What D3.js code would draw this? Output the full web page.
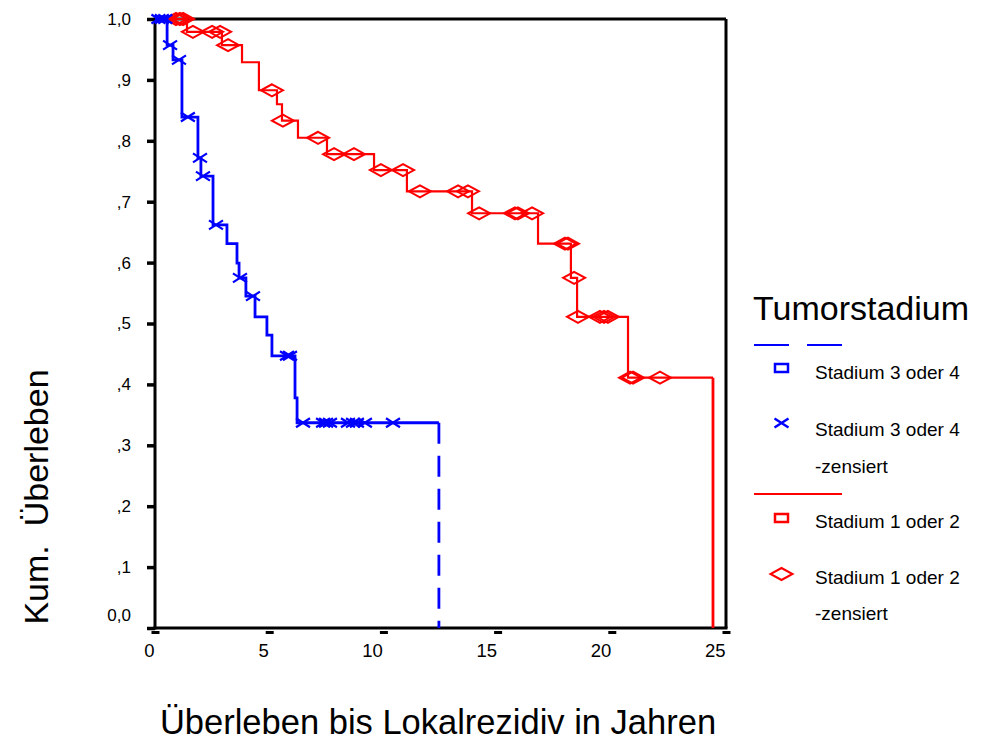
<!DOCTYPE html>
<html>
<head>
<meta charset="utf-8">
<script src="https://cdn.jsdelivr.net/npm/d3@7"></script>
<style>
  html, body { margin: 0; padding: 0; background: #fff; }
  svg text { font-family: "Liberation Sans", Arial, Helvetica, sans-serif; fill: #000; }
</style>
</head>
<body>
<svg id="chart" width="994" height="742"></svg>
<script>
// Kaplan-Meier: time to local recurrence (years), by tumour stage
const blueEventTimes = [0, 0.53, 0.79, 1.18, 1.88, 2.01, 2.54, 3.15, 3.59, 3.68, 3.98, 4.38, 4.90, 5.12, 6.13, 6.22, 12.43];
const blueSurvival   = [1.0, 0.957, 0.933, 0.839, 0.772, 0.742, 0.662, 0.631, 0.599, 0.575, 0.545, 0.511, 0.481, 0.447, 0.378, 0.337, 0];
const blueCensorTimes = [0.15, 0.30, 0.45, 0.66, 1.05, 1.44, 1.97, 2.10, 2.67, 3.72, 4.29, 5.78, 5.91, 6.48, 7.36, 7.49, 7.66, 8.45, 8.67, 8.84, 9.19, 10.42];

const redEventTimes = [0, 1.40, 2.93, 3.81, 4.55, 5.34, 5.56, 6.26, 7.53, 9.59, 11.03, 13.88, 16.77, 18.21, 18.48, 20.71, 24.43];
const redSurvival   = [1.0, 0.979, 0.957, 0.929, 0.883, 0.860, 0.833, 0.805, 0.778, 0.752, 0.717, 0.681, 0.631, 0.575, 0.511, 0.411, 0];
const redCensorTimes = [0.92, 1.09, 1.23, 1.66, 2.50, 2.85, 3.20, 5.12, 5.60, 7.14, 7.84, 8.71, 9.89, 10.86, 11.60, 13.27, 13.70, 14.19, 15.76, 15.89, 16.51, 17.95, 18.08, 18.35, 18.52, 19.48, 19.66, 19.83, 20.80, 20.93, 22.11];

const xTicks = [0, 5, 10, 15, 20, 25];
const xTickLabels = ["0", "5", "10", "15", "20", "25"];
const yTicks = [0, 0.1, 0.2, 0.3, 0.4, 0.5, 0.6, 0.7, 0.8, 0.9, 1.0];
const yTickLabels = ["0,0", ",1", ",2", ",3", ",4", ",5", ",6", ",7", ",8", ",9", "1,0"];

const legendTitle = "Tumorstadium";
const legendLabels = ["Stadium 3 oder 4", "Stadium 3 oder 4", "-zensiert", "Stadium 1 oder 2", "Stadium 1 oder 2", "-zensiert"];
const xTitle = "Überleben bis Lokalrezidiv in Jahren";
const yTitle = "Kum.  Überleben";

const BLUE = "#0000ff", RED = "#ff0000";

const svg = d3.select("#chart");
const x = d3.scaleLinear().domain([0, 25]).range([155, 726]);
const y = d3.scaleLinear().domain([0, 1]).range([628, 19]);

// survival value at time t (right-continuous step function)
function stepValue(times, vals, t) {
  let v = vals[0];
  for (let i = 0; i < times.length; i++) if (times[i] <= t) v = vals[i];
  return v;
}

// frame
const frame = svg.append("g");
frame.append("line").attr("x1", x(0)).attr("x2", x(25)).attr("y1", y(1)).attr("y2", y(1))
  .attr("stroke", "#000").attr("stroke-width", 3);
frame.append("line").attr("x1", x(25)).attr("x2", x(25)).attr("y1", y(1)).attr("y2", y(0))
  .attr("stroke", "#000").attr("stroke-width", 3);
frame.append("line").attr("x1", x(0)).attr("x2", x(0)).attr("y1", y(1) - 1.5).attr("y2", y(0) + 1.5)
  .attr("stroke", "#000").attr("stroke-width", 3);
frame.append("line").attr("x1", x(0) - 1.5).attr("x2", x(25) + 1.5).attr("y1", y(0)).attr("y2", y(0))
  .attr("stroke", "#000").attr("stroke-width", 3);

// axes
const yAxis = svg.append("g").attr("transform", `translate(${x(0)},0)`)
  .call(d3.axisLeft(y).tickValues(yTicks).tickFormat((d, i) => yTickLabels[i]).tickSize(8).tickPadding(16));
yAxis.select(".domain").remove();
yAxis.selectAll(".tick line").attr("stroke", "#000").attr("stroke-width", 3.5);
yAxis.selectAll(".tick text").attr("font-size", 17).attr("fill", "#000")
  .attr("transform", (d) => d === 0 ? "translate(0,-13)" : null);

const xAxis = svg.append("g").attr("transform", `translate(0,${y(0)})`)
  .call(d3.axisBottom(x).tickValues(xTicks).tickFormat((d, i) => xTickLabels[i]).tickSize(6).tickPadding(10));
xAxis.select(".domain").remove();
xAxis.selectAll(".tick line").attr("stroke", "#000").attr("stroke-width", 8)
  .attr("y1", 3).attr("y2", 6);
xAxis.selectAll(".tick text").attr("font-size", 18.5).attr("fill", "#000")
  .attr("text-anchor", "end").attr("dx", -1);

// step curves
const stepLine = d3.line().x(d => x(d[0])).y(d => y(d[1])).curve(d3.curveStepAfter);

function curvePoints(times, vals) {
  const pts = [];
  for (let i = 0; i < times.length - 1; i++) pts.push([times[i], vals[i]]);
  pts.push([times[times.length - 1], vals[vals.length - 2]]);
  return pts;
}

// Stadium 1 oder 2
const redPts = curvePoints(redEventTimes, redSurvival);
svg.append("path").attr("d", stepLine(redPts)).attr("fill", "none")
  .attr("stroke", RED).attr("stroke-width", 2.2);
const tEndR = redEventTimes[redEventTimes.length - 1];
svg.append("line").attr("x1", x(tEndR)).attr("x2", x(tEndR))
  .attr("y1", y(redSurvival[redSurvival.length - 2])).attr("y2", y(redSurvival[redSurvival.length - 1]))
  .attr("stroke", RED).attr("stroke-width", 2.8);

const diamond = "M0,-6L11,0L0,6L-11,0Z";
svg.append("g").selectAll("path").data(redCensorTimes).join("path")
  .attr("d", diamond)
  .attr("transform", t => `translate(${x(t)},${y(stepValue(redEventTimes, redSurvival, t))})`)
  .attr("fill", "none").attr("stroke", RED).attr("stroke-width", 2);

// Stadium 3 oder 4
const bluePts = curvePoints(blueEventTimes, blueSurvival);
svg.append("path").attr("d", stepLine(bluePts)).attr("fill", "none")
  .attr("stroke", BLUE).attr("stroke-width", 2.8);
const tEndB = blueEventTimes[blueEventTimes.length - 1];
svg.append("line").attr("x1", x(tEndB)).attr("x2", x(tEndB))
  .attr("y1", y(blueSurvival[blueSurvival.length - 2])).attr("y2", y(blueSurvival[blueSurvival.length - 1]))
  .attr("stroke", BLUE).attr("stroke-width", 2.8).attr("stroke-dasharray", "21,12");

const cross = "M-7,-4.5L7,4.5M-7,4.5L7,-4.5";
svg.append("g").selectAll("path").data(blueCensorTimes).join("path")
  .attr("d", cross)
  .attr("transform", t => `translate(${x(t)},${y(stepValue(blueEventTimes, blueSurvival, t))})`)
  .attr("fill", "none").attr("stroke", BLUE).attr("stroke-width", 2.2);

// axis titles
svg.append("text").attr("x", 438).attr("y", 734).attr("text-anchor", "middle")
  .attr("font-size", 34.5).text(xTitle);
svg.append("text").attr("transform", "translate(48,497) rotate(-90)").attr("text-anchor", "middle")
  .attr("font-size", 34).style("white-space", "pre").text(yTitle);

// legend
const lg = svg.append("g");
lg.append("text").attr("x", 753).attr("y", 320).attr("font-size", 34).text(legendTitle);
lg.append("line").attr("x1", 754).attr("x2", 842).attr("y1", 345).attr("y2", 345)
  .attr("stroke", BLUE).attr("stroke-width", 2).attr("stroke-dasharray", "35,18");
lg.append("rect").attr("x", 775).attr("y", 364).attr("width", 13).attr("height", 8)
  .attr("fill", "none").attr("stroke", BLUE).attr("stroke-width", 2.5);
lg.append("path").attr("d", cross).attr("transform", "translate(781.5,423)")
  .attr("fill", "none").attr("stroke", BLUE).attr("stroke-width", 2.5);
lg.append("line").attr("x1", 754).attr("x2", 842).attr("y1", 494).attr("y2", 494)
  .attr("stroke", RED).attr("stroke-width", 2);
lg.append("rect").attr("x", 775).attr("y", 514).attr("width", 13).attr("height", 8)
  .attr("fill", "none").attr("stroke", RED).attr("stroke-width", 2.5);
lg.append("path").attr("d", diamond).attr("transform", "translate(781.5,574)")
  .attr("fill", "none").attr("stroke", RED).attr("stroke-width", 2);

const legendBaselines = [379, 436, 473, 528, 584, 620];
lg.selectAll("text.item").data(legendLabels).join("text").attr("class", "item")
  .attr("x", 815).attr("y", (d, i) => legendBaselines[i]).attr("font-size", 19).text(d => d);
</script>
</body>
</html>
